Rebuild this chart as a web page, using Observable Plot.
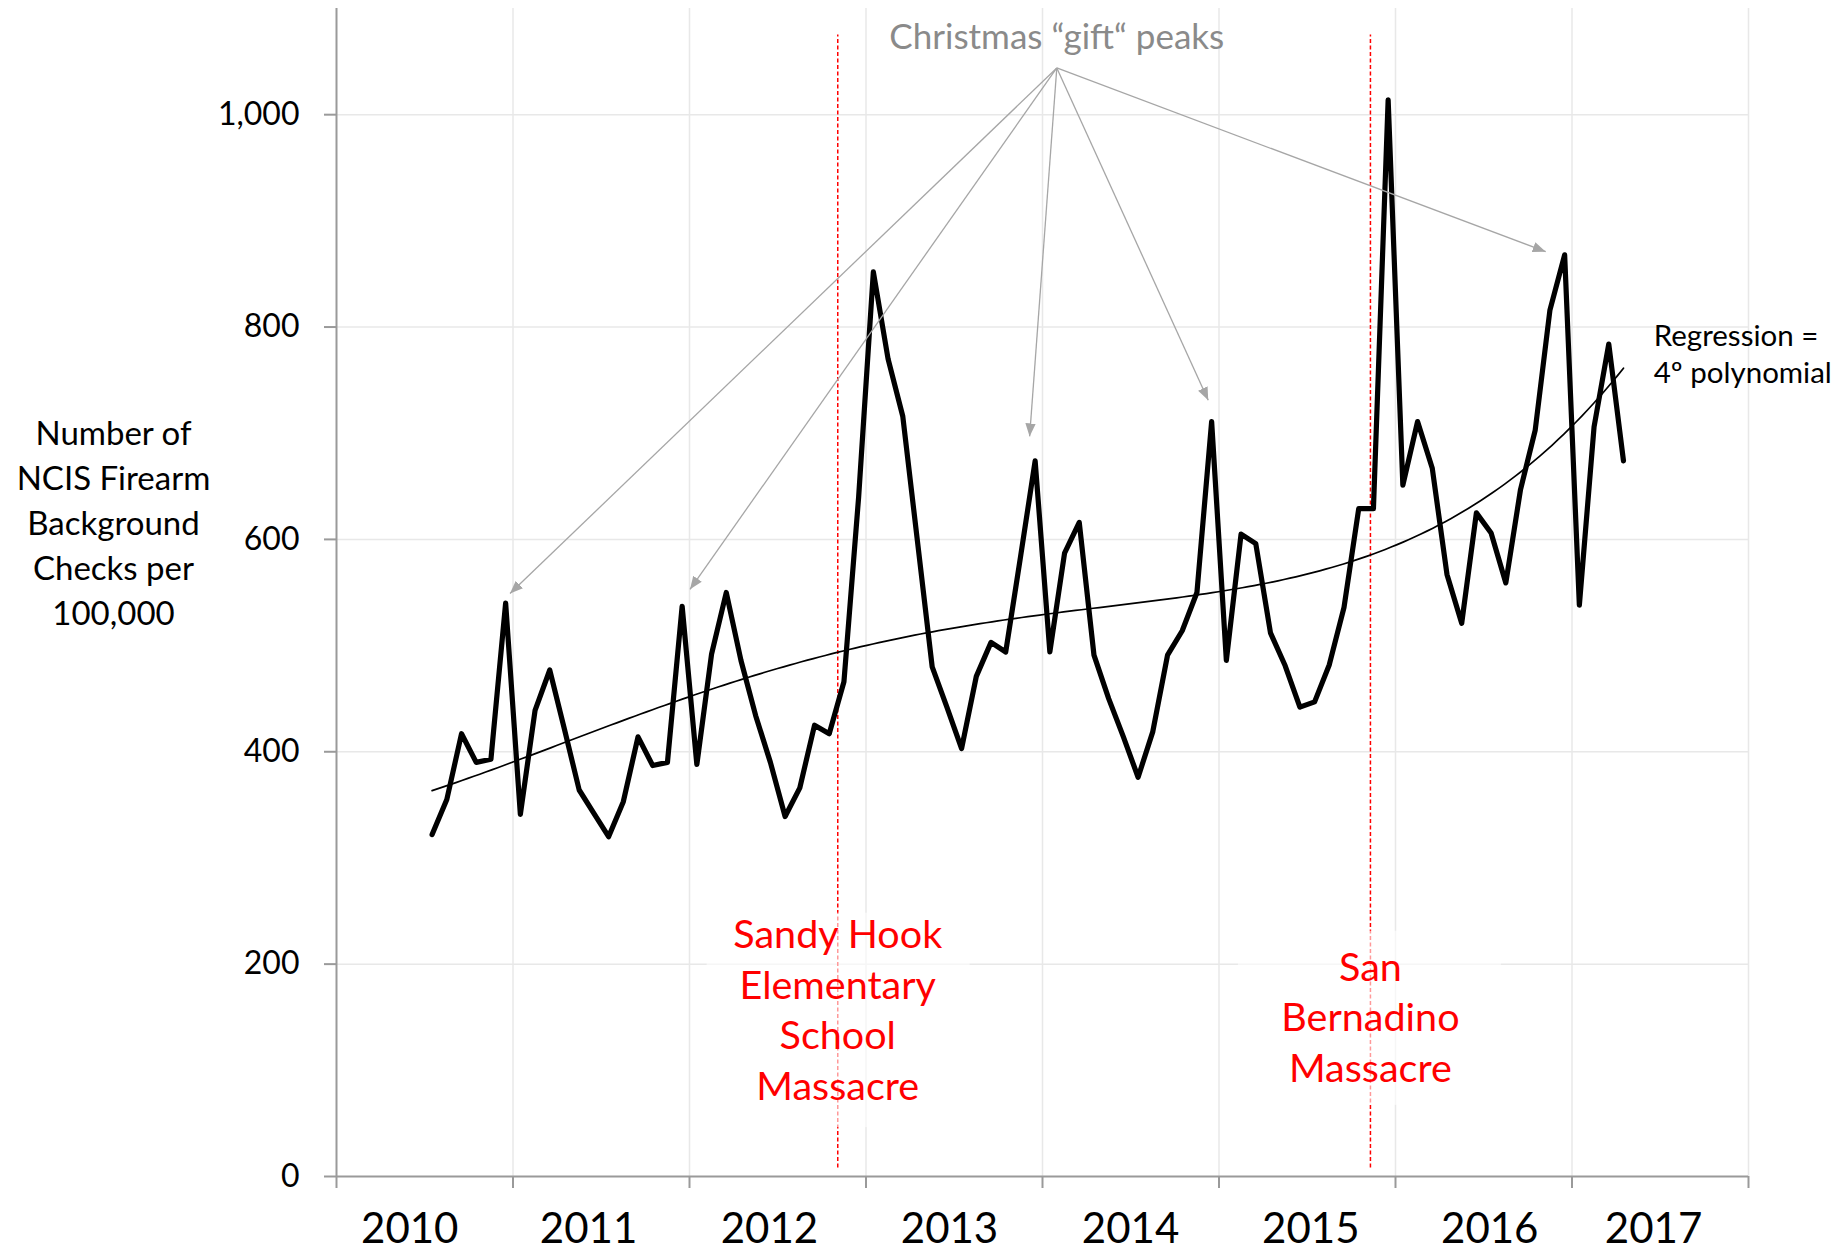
<!DOCTYPE html>
<html>
<head>
<meta charset="utf-8">
<script src="https://cdn.jsdelivr.net/npm/d3@7"></script>
<script src="https://cdn.jsdelivr.net/npm/@observablehq/plot@0.6"></script>
<style>
  html, body { margin: 0; padding: 0; background: #ffffff; }
  #chart { width: 1845px; height: 1260px; }
</style>
</head>
<body>
<div id="chart"></div>
<script>
// ---------- data ----------
const startYear = 2010;
const startMonth = 7; // July 2010, monthly values
const checksPer100k = [
  322, 355, 417, 390, 393, 540,               // Jul–Dec 2010
  341, 439, 477, 421, 364, 342, 320, 353, 414, 387, 390, 537,   // 2011
  388, 492, 550, 486, 434, 390, 339, 366, 425, 417, 466, 640,   // 2012
  852, 770, 716, 598, 480, 442, 403, 471, 503, 494, 583, 674,   // 2013
  494, 587, 616, 491, 450, 414, 376, 419, 491, 514, 550, 711,   // 2014
  486, 605, 596, 512, 481, 442, 447, 482, 536, 629, 629, 1014,  // 2015
  651, 711, 667, 567, 521, 625, 606, 559, 647, 703, 816, 868,   // 2016
  538, 706, 784, 674                                            // Jan–Apr 2017
];
const yearTicks = [2010, 2011, 2012, 2013, 2014, 2015, 2016, 2017, 2018];
const yearLabels = ["2010", "2011", "2012", "2013", "2014", "2015", "2016", "2017"];
const yearLabelPos = [2010.415, 2011.428, 2012.453, 2013.473, 2014.499, 2015.52, 2016.534, 2017.462];
const yTicks = [0, 200, 400, 600, 800, 1000];

const events = ["Sandy Hook\nElementary\nSchool\nMassacre", "San\nBernadino\nMassacre"];
const eventDates = [2012.84, 2015.858];

const christmasLabel = "Christmas \u201cgift\u201c peaks";
const christmasPeaks = [2010.983, 2012.003, 2013.927, 2014.939, 2016.851];   // arrow targets (x)
const christmasPeakTips = [549, 553, 697, 731, 871];                          // arrow targets (y)
const regressionLabel = "Regression =\n4\u00ba polynomial";
const yTitle = "Number of\nNCIS Firearm\nBackground\nChecks per\n100,000";

// ---------- derived tables ----------
const series = checksPer100k.map((v, i) => ({
  x: startYear + (startMonth - 1 + i + 0.5) / 12,
  v
}));

function polyfit(xs, ys, deg) {
  const n = deg + 1;
  const A = Array.from({length: n}, () => new Array(n + 1).fill(0));
  for (let k = 0; k < xs.length; k++) {
    const p = [];
    for (let j = 0; j < n; j++) p.push(Math.pow(xs[k], j));
    for (let r = 0; r < n; r++) {
      for (let c = 0; c < n; c++) A[r][c] += p[r] * p[c];
      A[r][n] += p[r] * ys[k];
    }
  }
  for (let col = 0; col < n; col++) {
    let piv = col;
    for (let r = col + 1; r < n; r++) if (Math.abs(A[r][col]) > Math.abs(A[piv][col])) piv = r;
    [A[col], A[piv]] = [A[piv], A[col]];
    for (let r = 0; r < n; r++) {
      if (r === col) continue;
      const f = A[r][col] / A[col][col];
      for (let c = col; c <= n; c++) A[r][c] -= f * A[col][c];
    }
  }
  return A.map((row, i) => row[n] / row[i]);
}
const N = series.length;
const ts = series.map((d, i) => i / (N - 1));
const coef = polyfit(ts, checksPer100k, 4);
const x0 = series[0].x, x1 = series[N - 1].x;
const fit = d3.range(0, 201).map(k => {
  const t = k / 200;
  let v = 0;
  for (let j = coef.length - 1; j >= 0; j--) v = v * t + coef[j];
  return {x: x0 + t * (x1 - x0), v};
});

const eventTable = events.map((label, i) => ({label, x: eventDates[i]}));
const arrowTable = christmasPeaks.map((x, i) => ({x, v: christmasPeakTips[i]}));
const yearLabelTable = yearLabels.map((label, i) => ({label, x: yearLabelPos[i]}));

// ---------- styles ----------
const axisGray = "#9a9a9a";
const gridGray = "#e8e8e8";
const arrowGray = "#a6a6a6";
const font = "Lato, 'Open Sans', sans-serif";

const chart = Plot.plot({
  width: 1845,
  height: 1260,
  marginLeft: 336,
  marginRight: 97,
  marginTop: 8,
  marginBottom: 84,
  style: {fontFamily: font, background: "#ffffff", color: "#000000"},
  x: {type: "linear", domain: [2010, 2018], axis: null},
  y: {type: "linear", domain: [0, 1100], axis: null},
  marks: [
    Plot.gridX(yearTicks.slice(1), {stroke: gridGray, strokeOpacity: 1, strokeWidth: 1.5}),
    Plot.gridY(yTicks.slice(1), {stroke: gridGray, strokeOpacity: 1, strokeWidth: 1.5}),
    // axes
    Plot.ruleX([2010], {stroke: axisGray, strokeWidth: 2}),
    Plot.ruleY([0], {stroke: axisGray, strokeWidth: 2}),
    Plot.axisX(yearTicks, {tickSize: 12, stroke: axisGray, strokeWidth: 2, fill: "none", label: null}),
    Plot.axisY(yTicks, {
      tickSize: 12, tickPadding: 25, stroke: axisGray, strokeWidth: 2,
      fill: "#000000", fontSize: 32, label: null, tickFormat: d3.format(",")
    }),
    Plot.text(yearLabelTable, {x: "x", text: "label", frameAnchor: "bottom", lineAnchor: "middle", dy: 53, fontSize: 42, fill: "#000000"}),
    Plot.text([yTitle], {
      frameAnchor: "left", y: () => 617.5, dx: -223, text: d => d,
      fontSize: 33, lineHeight: 1.36, fill: "#000000", textAnchor: "middle"
    }),
    // event markers
    Plot.ruleX(eventTable, {x: "x", y1: 8, y2: 1075, stroke: "#ff0000", strokeWidth: 1.5, strokeDasharray: "4,2.5"}),
    Plot.rect([0], {x1: 2012.10, x2: 2013.59, y1: 46, y2: 248, fill: "#ffffff", fillOpacity: 0.6}),
    Plot.rect([0], {x1: 2015.11, x2: 2016.60, y1: 67, y2: 231, fill: "#ffffff", fillOpacity: 0.6}),
    Plot.text(eventTable.slice(0, 1), {x: "x", y: () => 159, text: "label", fill: "#ff0000", fontSize: 39.5, lineHeight: 1.28}),
    Plot.text(eventTable.slice(1), {x: "x", y: () => 152, text: "label", fill: "#ff0000", fontSize: 39.5, lineHeight: 1.28}),
    // data
    Plot.line(fit, {x: "x", y: "v", stroke: "#000000", strokeWidth: 1.7}),
    Plot.line(series, {x: "x", y: "v", stroke: "#000000", strokeWidth: 5.2, strokeLinejoin: "round", strokeLinecap: "round"}),
    // annotations
    Plot.link(arrowTable, {x1: () => 2014.081, y1: () => 1044, x2: "x", y2: "v", stroke: arrowGray, strokeWidth: 1.3, markerEnd: "arrow"}),
    Plot.text([christmasLabel], {x: () => 2014.081, y: () => 1072, text: d => d, fill: "#8a8a8a", fontSize: 35}),
    Plot.text([regressionLabel], {x: () => 2017.463, y: () => 776, text: d => d, textAnchor: "start", fill: "#000000", fontSize: 29.5, lineHeight: 1.28})
  ]
});

// filled triangular arrow heads like the reference
chart.querySelectorAll("marker").forEach(m => {
  m.setAttribute("viewBox", "-10 -5 10 10");
  m.setAttribute("markerUnits", "userSpaceOnUse");
  m.setAttribute("markerWidth", 13);
  m.setAttribute("markerHeight", 13);
  m.setAttribute("fill", arrowGray);
  m.setAttribute("stroke", "none");
  const p = m.querySelector("path");
  if (p) p.setAttribute("d", "M-10,-4L0,0L-10,4Z");
});

document.getElementById("chart").appendChild(chart);
</script>
</body>
</html>
